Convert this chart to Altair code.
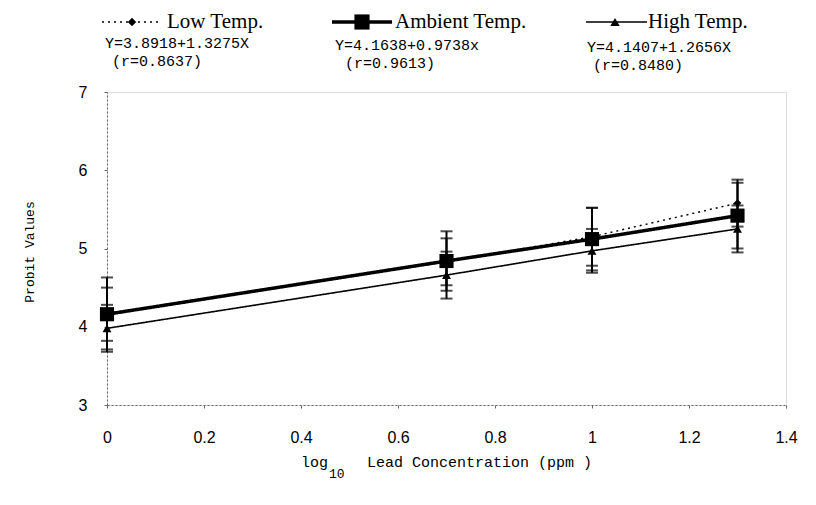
import altair as alt
import pandas as pd

# ---- data ----
conc = [0.0, 0.7, 1.0, 1.3]
low = [4.17, 4.83, 5.15, 5.58]
low_err = [0.46, 0.30, 0.37, 0.30]
amb = [4.16, 4.84, 5.12, 5.42]
amb_err = [0.34, 0.38, 0.40, 0.42]
high = [3.98, 4.66, 4.97, 5.25]
high_err = [0.30, 0.30, 0.28, 0.30]

series_names = ["Low Temp.", "Ambient Temp.", "High Temp."]
equations = ["Y=3.8918+1.3275X", "Y=4.1638+0.9738x", "Y=4.1407+1.2656X"]
r_texts = ["(r=0.8637)", "(r=0.9613)", "(r=0.8480)"]
x_ticks = [0, 0.2, 0.4, 0.6, 0.8, 1.0, 1.2, 1.4]
y_ticks = [3, 4, 5, 6, 7]

rows = []
for name, vals, errs in zip(series_names, [low, amb, high], [low_err, amb_err, high_err]):
    for xv, v, e in zip(conc, vals, errs):
        rows.append({"series": name, "x": xv, "y": v, "lo": v - e, "hi": v + e})
df = pd.DataFrame(rows)

W, H = 679, 313
xs = alt.Scale(domain=[0, 1.4], nice=False)
ys = alt.Scale(domain=[3, 7], nice=False)

x_axis = alt.Axis(values=x_ticks, format="~g", title=None, grid=False,
                  labelFont="Liberation Sans", labelFontSize=16, labelColor="black",
                  labelPadding=21, domainColor="#666", domainDash=[2, 2], domainWidth=1,
                  tickColor="#666", tickSize=3, labelFlush=False)
y_axis = alt.Axis(values=y_ticks, format="d", title=None, grid=False,
                  labelFont="Liberation Sans", labelFontSize=16, labelColor="black",
                  labelPadding=17, domainColor="#666", domainDash=[2, 2], domainWidth=1,
                  tickColor="#666", tickSize=3)

base = alt.Chart(df).encode(
    x=alt.X("x:Q", scale=xs, axis=x_axis),
    y=alt.Y("y:Q", scale=ys, axis=y_axis),
)

# error bars
err_rule = alt.Chart(df).mark_rule(color="black", strokeWidth=2).encode(
    x=alt.X("x:Q", scale=xs), y=alt.Y("lo:Q", scale=ys), y2="hi:Q")
cap_lo = alt.Chart(df).mark_tick(color="black", orient="horizontal", size=12, thickness=2).encode(
    x=alt.X("x:Q", scale=xs), y=alt.Y("lo:Q", scale=ys))
cap_hi = alt.Chart(df).mark_tick(color="black", orient="horizontal", size=12, thickness=2).encode(
    x=alt.X("x:Q", scale=xs), y=alt.Y("hi:Q", scale=ys))

styles = {
    "Low Temp.": dict(dash=[2, 4], width=1.5, shape="diamond", size=60, lsize=70),
    "Ambient Temp.": dict(dash=[1, 0], width=3.5, shape="square", size=200, lsize=230),
    "High Temp.": dict(dash=[1, 0], width=1.6, shape="triangle-up", size=80, lsize=90),
}

layers = [err_rule, cap_lo, cap_hi]
for name in ["High Temp.", "Low Temp.", "Ambient Temp."]:
    st = styles[name]
    f = base.transform_filter(alt.datum.series == name)
    layers.append(f.mark_line(color="black", strokeWidth=st["width"], strokeDash=st["dash"]))
    layers.append(f.mark_point(color="black", filled=True, opacity=1, shape=st["shape"], size=st["size"]))

# ---- hand-made legend above the plot (pixel offsets from plot origin) ----
leg_df = pd.DataFrame({"series": series_names, "eq": equations, "r": r_texts})
leg_pos = {
    "Low Temp.": dict(x1=-5, x2=55, mx=25, lx=60, ly=-70, ex=-2, ey=-49, rx=5, ry=-31),
    "Ambient Temp.": dict(x1=225, x2=285, mx=255, lx=288, ly=-70, ex=228, ey=-47, rx=238, ry=-29),
    "High Temp.": dict(x1=479, x2=540, mx=508, lx=541, ly=-70, ex=480, ey=-45, rx=486, ry=-27),
}
for name in series_names:
    st = styles[name]
    p = leg_pos[name]
    lc = alt.Chart(leg_df).transform_filter(alt.datum.series == name)
    layers.append(lc.mark_rule(color="black", strokeWidth=st["width"], strokeDash=st["dash"]).encode(
        x=alt.value(p["x1"]), x2=alt.value(p["x2"]), y=alt.value(p["ly"])))
    layers.append(lc.mark_point(color="black", filled=True, opacity=1, shape=st["shape"], size=st["lsize"]).encode(
        x=alt.value(p["mx"]), y=alt.value(p["ly"])))
    layers.append(lc.mark_text(align="left", baseline="middle", font="Liberation Serif", fontSize=21,
                               color="black").encode(text="series:N", x=alt.value(p["lx"]), y=alt.value(p["ly"])))
    layers.append(lc.mark_text(align="left", baseline="middle", font="Liberation Mono", fontSize=15,
                               color="black").encode(text="eq:N", x=alt.value(p["ex"]), y=alt.value(p["ey"])))
    layers.append(lc.mark_text(align="left", baseline="middle", font="Liberation Mono", fontSize=15,
                               color="black").encode(text="r:N", x=alt.value(p["rx"]), y=alt.value(p["ry"])))

# ---- axis titles ----
title_df = pd.DataFrame({"t": ["Probit Values", "log", "10", "Lead Concentration (ppm )"]})
tc = alt.Chart(title_df)
layers.append(tc.transform_filter(alt.datum.t == "Probit Values").mark_text(
    angle=270, font="Liberation Mono", fontSize=13, color="black", baseline="middle", align="center"
).encode(text="t:N", x=alt.value(-77), y=alt.value(160)))
layers.append(tc.transform_filter(alt.datum.t == "log").mark_text(
    font="Liberation Mono", fontSize=15, color="black", baseline="middle", align="left"
).encode(text="t:N", x=alt.value(194), y=alt.value(370)))
layers.append(tc.transform_filter(alt.datum.t == "10").mark_text(
    font="Liberation Mono", fontSize=13, color="black", baseline="middle", align="left"
).encode(text="t:N", x=alt.value(222), y=alt.value(382)))
layers.append(tc.transform_filter(alt.datum.t == "Lead Concentration (ppm )").mark_text(
    font="Liberation Mono", fontSize=15, color="black", baseline="middle", align="left"
).encode(text="t:N", x=alt.value(260), y=alt.value(370)))

chart = alt.layer(*layers).properties(
    width=W, height=H,
    autosize=alt.AutoSizeParams(type="none"),
    padding={"left": 99, "top": 84, "right": 20, "bottom": 90},
).configure_view(stroke=None).configure(background="white")

chart.save("out.html", embed_options={"renderer": "svg", "actions": False})
